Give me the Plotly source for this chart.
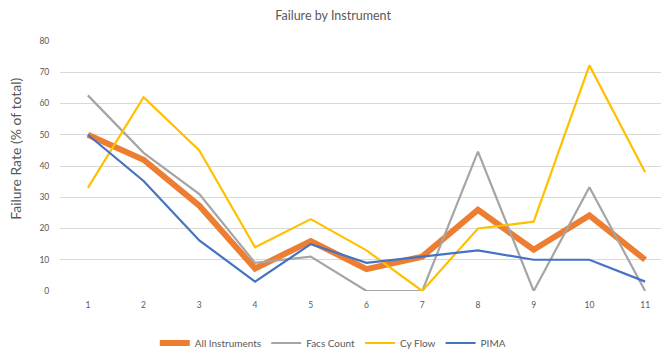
import plotly.graph_objects as go

categories = [1, 2, 3, 4, 5, 6, 7, 8, 9, 10, 11]
all_instruments = [50, 42, 27.3, 7.2, 16, 7, 11, 26, 13.2, 24.2, 10]
facs_count = [62.6, 44.2, 31, 9, 11, 0, 0, 44.6, 0, 33.2, 0]
cy_flow = [33, 62, 45, 14, 23, 13, 0, 20, 22.2, 72.2, 38]
pima = [50, 35.2, 16.2, 3, 15, 9, 11, 13, 10, 10, 3]

series = [
    ("All Instruments", all_instruments, "#ED7D31", 6),
    ("Facs Count", facs_count, "#A5A5A5", 2.2),
    ("Cy Flow", cy_flow, "#FFC000", 2.2),
    ("PIMA", pima, "#4472C4", 2.2),
]

fig = go.Figure()
for name, vals, color, w in series:
    fig.add_trace(go.Scatter(
        x=[str(c) for c in categories], y=vals, name=name, mode="lines",
        line=dict(color=color, width=w),
    ))

font_family = "Lato, 'Open Sans', sans-serif"
fig.update_layout(
    width=669, height=353,
    margin=dict(l=52, r=4, t=33, b=60),
    paper_bgcolor="white", plot_bgcolor="white",
    font=dict(family=font_family, color="#595959"),
    title=dict(text="Failure by Instrument", x=0.486, xanchor="center",
               y=0.977, yanchor="middle", yref="container",
               font=dict(size=12.5, color="#595959", family=font_family)),
    xaxis=dict(type="category", range=[-0.5, 10.5], showgrid=False,
               showline=False, zeroline=False,
               tickfont=dict(size=8.5, color="#595959"), ticks="outside",
               ticklen=6, tickcolor="rgba(0,0,0,0)"),
    yaxis=dict(range=[0, 80], dtick=10, showgrid=True, gridcolor="#D9D9D9",
               gridwidth=1, zeroline=False, showline=False,
               tickfont=dict(size=8.5, color="#595959"), ticks="outside",
               ticklen=8, tickcolor="rgba(0,0,0,0)"),
    legend=dict(orientation="h", x=0.445, xanchor="center", y=-0.208,
                yanchor="middle", font=dict(size=10, color="#595959"),
                tracegroupgap=0),
    showlegend=True,
    annotations=[dict(text="Failure Rate (% of total)", textangle=-90,
                      xref="paper", yref="paper", x=-0.0718, y=0.569,
                      xanchor="center", yanchor="middle", showarrow=False,
                      font=dict(size=14, color="#595959", family=font_family))],
)

fig.write_html("out.html")
